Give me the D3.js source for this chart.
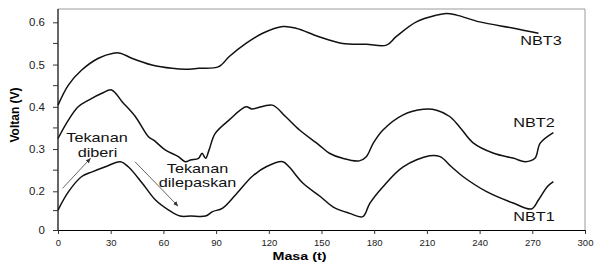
<!DOCTYPE html>
<html>
<head>
<meta charset="utf-8">
<script src="https://cdn.jsdelivr.net/npm/d3@7"></script>
<style>
  body { margin: 0; background: #fff; }
  svg { display: block; font-family: "Liberation Sans", Arial, sans-serif; }
</style>
</head>
<body>
<div id="chart"></div>
<script>
// nilai (t dalam saat, V dalam volt)
const nbt3T = [0, 6, 13.5, 23, 31.5, 35.5, 42, 53.5, 65, 72.5, 80, 91.5, 97.5, 107, 116.5, 128, 135.5, 148.5, 162, 175.5, 187, 192.5, 204, 215.5, 221, 227, 240, 259.5, 273.5];
const nbt3V = [0.404, 0.452, 0.487, 0.515, 0.527, 0.527, 0.515, 0.499, 0.491, 0.489, 0.491, 0.495, 0.519, 0.550, 0.574, 0.590, 0.586, 0.566, 0.550, 0.548, 0.546, 0.566, 0.601, 0.617, 0.621, 0.617, 0.601, 0.586, 0.574];

const nbt2T = [0, 6, 11.5, 17.5, 25, 30.5, 36.5, 44, 51.5, 54.5, 61, 68.5, 72.5, 75.5, 80, 82, 84, 86, 89.5, 97.5, 107, 110.5, 122, 129.5, 137.5, 148.5, 154.5, 162, 171.5, 175.5, 179.5, 185, 196.5, 208, 215.5, 223, 228.5, 236.5, 248, 259.5, 266, 271.5, 274.5, 282];
const nbt2V = [0.325, 0.369, 0.400, 0.416, 0.432, 0.440, 0.412, 0.377, 0.329, 0.321, 0.298, 0.282, 0.270, 0.274, 0.278, 0.290, 0.278, 0.298, 0.337, 0.369, 0.400, 0.395, 0.404, 0.377, 0.345, 0.310, 0.290, 0.278, 0.272, 0.282, 0.314, 0.345, 0.381, 0.394, 0.392, 0.377, 0.353, 0.314, 0.290, 0.278, 0.270, 0.278, 0.314, 0.339];

const nbt1T = [0, 6, 13.5, 19.5, 27, 35.5, 40, 48, 55.5, 63, 69.5, 75.5, 84, 88, 93.5, 101, 110.5, 118.5, 128, 131.5, 139.5, 149.5, 156.5, 166, 173.5, 177.5, 185, 196.5, 211.5, 217.5, 224, 230.5, 244, 259.5, 269.5, 273.5, 278.5, 282];
const nbt1V = [0.103, 0.198, 0.235, 0.246, 0.258, 0.270, 0.258, 0.219, 0.155, 0.103, 0.072, 0.072, 0.072, 0.095, 0.112, 0.181, 0.235, 0.258, 0.270, 0.258, 0.219, 0.172, 0.120, 0.086, 0.069, 0.138, 0.211, 0.258, 0.284, 0.282, 0.258, 0.235, 0.198, 0.138, 0.109, 0.155, 0.211, 0.223];

const seriesNames = ["NBT1", "NBT2", "NBT3"];
const xTicks = [0, 30, 60, 90, 120, 150, 180, 210, 240, 270, 300];
const yTicks = [0, 0.2, 0.3, 0.4, 0.5, 0.6];
const yMinorTicks = [0.1, 0.25, 0.35, 0.45, 0.55];

// anotasi: [t, V]
const arrowDiberi = [[2.6, 0.207], [18.5, 0.278]];
const arrowDilepas = [[43.8, 0.270], [68.3, 0.124]];

const W = 595, H = 262;
const mLeft = 58, mRight = 585, mTop = 9, mBottom = 230;

const svg = d3.select("#chart").append("svg")
    .attr("width", W)
    .attr("height", H);

const x = d3.scaleLinear().domain([0, 300]).range([mLeft, mRight]);
// paksi Y dalam rajah asal tidak linear antara 0 dan 0.2
const y = d3.scaleLinear().domain([0, 0.2, 0.6]).range([mBottom, 191.3, 22.3]);

// bingkai kawasan plot
svg.append("path")
    .attr("d", `M${mLeft},${mTop}H${mRight}V${mBottom}`)
    .attr("fill", "none")
    .attr("stroke", "#9a9a9a")
    .attr("stroke-width", 1);

// paksi X
const gx = svg.append("g")
    .attr("transform", `translate(0,${mBottom})`)
    .call(d3.axisBottom(x).tickValues(xTicks).tickSize(4).tickSizeOuter(0).tickPadding(5));
gx.select(".domain").attr("stroke", "#000").attr("stroke-width", 1.2);
gx.selectAll(".tick line").attr("stroke", "#333");
gx.selectAll(".tick text").attr("font-size", 9.5).attr("fill", "#222")
    .attr("font-family", "Liberation Sans, Arial, sans-serif");

// paksi Y
const gy = svg.append("g")
    .attr("transform", `translate(${mLeft},0)`)
    .call(d3.axisLeft(y).tickValues(yTicks).tickSize(5).tickSizeOuter(0));
gy.select(".domain").attr("stroke", "#000").attr("stroke-width", 1.2)
    .attr("d", `M0,${mTop}V${mBottom}`);
gy.selectAll(".tick line").attr("stroke", "#333");
gy.selectAll(".tick text").remove();
gy.selectAll(".tick").each(function(d) {
    d3.select(this).append("text")
        .attr("transform", "translate(-13,0) scale(1.15,1)")
        .attr("dy", "0.35em")
        .attr("text-anchor", "end")
        .attr("font-size", 10)
        .attr("font-family", "Liberation Sans, Arial, sans-serif")
        .attr("fill", "#222")
        .text(d === 0 ? "0" : d3.format(".1f")(d));
});
svg.append("g").selectAll("line")
    .data(yMinorTicks)
    .enter().append("line")
    .attr("x1", mLeft - 5).attr("x2", mLeft)
    .attr("y1", d => y(d)).attr("y2", d => y(d))
    .attr("stroke", "#333");

// tajuk paksi
svg.append("text")
    .attr("transform", `translate(${(mLeft + mRight) / 2 - 22},259.5) scale(1.3,1)`)
    .attr("text-anchor", "middle")
    .attr("font-size", 11)
    .attr("font-weight", "bold")
    .text("Masa (t)");

svg.append("text")
    .attr("transform", "translate(19,115) rotate(-90)")
    .attr("text-anchor", "middle")
    .attr("font-size", 12)
    .attr("font-weight", "bold")
    .text("Voltan (V)");

// garis siri
const line = d3.line()
    .x(d => x(d[0]))
    .y(d => y(d[1]))
    .curve(d3.curveCatmullRom.alpha(0.5));

const series = [
    { name: seriesNames[0], pts: d3.zip(nbt1T, nbt1V), lx: 534, ly: 221 },
    { name: seriesNames[1], pts: d3.zip(nbt2T, nbt2V), lx: 534, ly: 127 },
    { name: seriesNames[2], pts: d3.zip(nbt3T, nbt3V), lx: 541, ly: 45 }
];

svg.append("g").selectAll("path")
    .data(series)
    .enter().append("path")
    .attr("d", d => line(d.pts))
    .attr("fill", "none")
    .attr("stroke", "#111")
    .attr("stroke-width", 1.5)
    .attr("stroke-linejoin", "round");

// label siri
series.forEach(s => {
    svg.append("text")
        .attr("transform", `translate(${s.lx},${s.ly}) scale(1.25,1)`)
        .attr("text-anchor", "middle")
        .attr("font-size", 13)
        .attr("fill", "#111")
        .text(s.name);
});

// anak panah
svg.append("defs").append("marker")
    .attr("id", "head")
    .attr("viewBox", "0 0 10 10")
    .attr("refX", 9).attr("refY", 5)
    .attr("markerWidth", 6).attr("markerHeight", 6)
    .attr("orient", "auto")
    .append("path")
    .attr("d", "M0,1L10,5L0,9Z")
    .attr("fill", "#333");

[arrowDiberi, arrowDilepas].forEach(a => {
    svg.append("line")
        .attr("x1", x(a[0][0])).attr("y1", y(a[0][1]))
        .attr("x2", x(a[1][0])).attr("y2", y(a[1][1]))
        .attr("stroke", "#555")
        .attr("stroke-width", 0.9)
        .attr("marker-end", "url(#head)");
});

// teks anotasi
const notes = [
    { txt: "Tekanan", cx: 97, by: 142 },
    { txt: "diberi", cx: 97.5, by: 157 },
    { txt: "Tekanan", cx: 197.5, by: 173 },
    { txt: "dilepaskan", cx: 197.5, by: 187 }
];
notes.forEach(n => {
    svg.append("text")
        .attr("transform", `translate(${n.cx},${n.by}) scale(1.25,1)`)
        .attr("text-anchor", "middle")
        .attr("font-size", 13)
        .attr("fill", "#111")
        .text(n.txt);
});
</script>
</body>
</html>
